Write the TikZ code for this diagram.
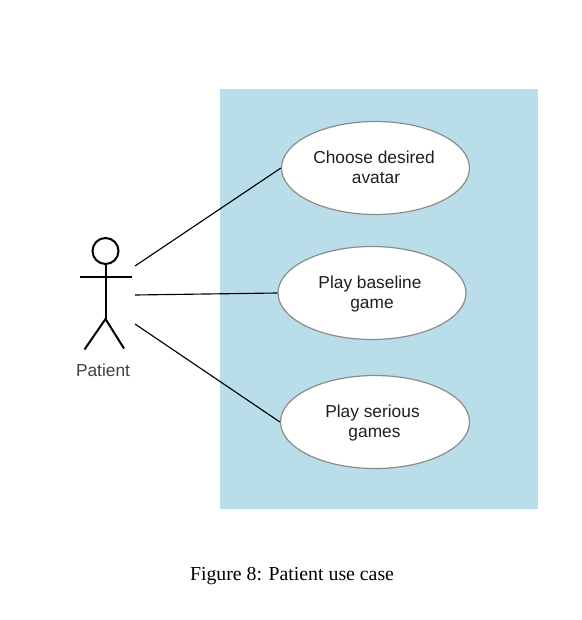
\documentclass[tikz,border=0pt]{standalone}
\usepackage{fontspec}
\setmainfont{Liberation Sans}
\newfontfamily\serifcap{Liberation Serif}
\usetikzlibrary{shapes.geometric}
\definecolor{panel}{HTML}{B9DDE9}
\definecolor{edgegray}{HTML}{8C8C8C}
\definecolor{labelgray}{HTML}{404040}
\tikzset{
  px/.style={x=0.75pt,y=-0.75pt},
  usecase/.style={draw=edgegray,fill=white,ellipse,line width=0.9pt,minimum width=#1*0.75pt,inner sep=0pt},
  caselabel/.style={align=center,font=\fontsize{13}{15}\selectfont,text=black!88},
  link/.style={draw=black,line width=0.85pt},
  stick/.style={draw=black,line width=1.5pt}
}
\begin{document}
\begin{tikzpicture}[px]
\useasboundingbox (0,0) rectangle (581,620);
\fill[panel] (220,89) rectangle (538,509);
\node[usecase=188,minimum height=93*0.75pt] (a) at (375.5,168) {};
\node[usecase=188,minimum height=93*0.75pt] (b) at (372,293) {};
\node[usecase=189,minimum height=93*0.75pt] (c) at (375,422) {};
\node[caselabel] (atext) at (374,167.5) {Choose desired\\\hspace*{3pt}avatar};
\node[caselabel] (btext) at (370,294) {Play baseline\\\hspace*{3pt}game};
\node[caselabel] (ctext) at (372.5,423) {Play serious\\\hspace*{3pt}games};
\coordinate (p1) at (135,266);
\coordinate (p2) at (135,295);
\coordinate (p3) at (135,324);
\draw[link] (p1) -- (a.west);
\draw[link] (p2) -- (b.west);
\draw[link] (p3) -- (c.west);
\draw[stick] (105.5,251) circle[radius=13pt*0.75];
\coordinate (neck) at (105.5,264.5);
\coordinate (hip) at (105.5,319);
\coordinate (armL) at (79.5,277);
\coordinate (armR) at (132,277);
\coordinate (footL) at (84.5,349.5);
\coordinate (footR) at (124,348.5);
\draw[stick] (neck) -- (hip);
\draw[stick] (armL) -- (armR);
\draw[stick] (footL) -- (hip) -- (footR);
\node[font=\fontsize{13}{15}\selectfont,text=labelgray] (patient) at (103,370) {Patient};
\node[font=\serifcap\fontsize{14.85}{16}\selectfont,text=black] (caption) at (292,576) {Figure 8: Patient use case};
\end{tikzpicture}
\end{document}
